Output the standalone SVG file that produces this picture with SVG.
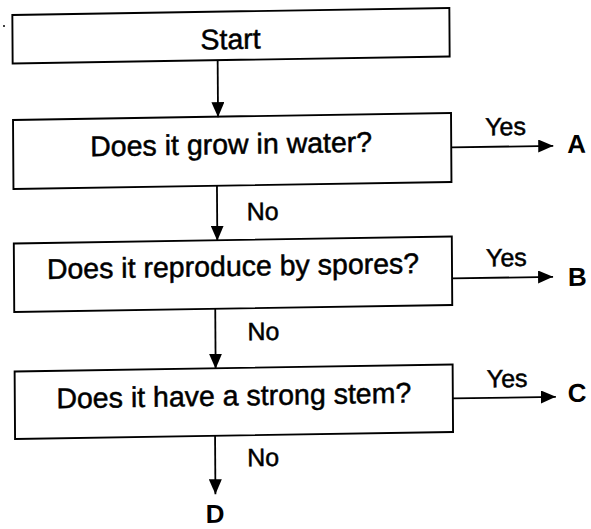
<svg xmlns="http://www.w3.org/2000/svg" width="591" height="529" viewBox="0 0 591 529">
  <style>
    .box { fill: #ffffff; stroke: #000000; stroke-width: 1.9; }
    .main { font-family: "Liberation Sans", Arial, sans-serif; font-size: 28.5px; fill: #000000; stroke: #000000; stroke-width: 0.5; text-anchor: middle; }
    .lbl { font-family: "Liberation Sans", Arial, sans-serif; font-size: 25px; fill: #000000; stroke: #000000; stroke-width: 0.5; }
    .end { font-family: "Liberation Sans", Arial, sans-serif; font-size: 26px; font-weight: bold; fill: #000000; }
    .conn { fill: none; stroke: #000000; stroke-width: 1.8; }
  </style>
  <defs>
    <marker id="arr" markerUnits="userSpaceOnUse" viewBox="0 0 15 13" refX="15" refY="6.5" markerWidth="15" markerHeight="13" orient="auto">
      <path d="M0,0 L15,6.5 L0,13 z" fill="#000000"/>
    </marker>
  </defs>
  <rect width="591" height="529" fill="#ffffff"/>
  <circle cx="4" cy="26" r="1" fill="#000000"/>
  <g transform="matrix(1,-0.016,0.0064,1,-1.73,3.68)">
    <g id="start">
      <rect class="box" x="14" y="11.5" width="437" height="48.5"/>
      <text class="main" x="232" y="49">Start</text>
    </g>
    <g id="q1">
      <rect class="box" x="14" y="116.5" width="438" height="69"/>
      <text class="main" x="232" y="154">Does it grow in water?</text>
    </g>
    <g id="q2">
      <rect class="box" x="14" y="240" width="438" height="68.5"/>
      <text class="main" x="233" y="276">Does it reproduce by spores?</text>
    </g>
    <g id="q3">
      <rect class="box" x="14" y="368" width="438" height="67.5"/>
      <text class="main" x="233" y="405.5">Does it have a strong stem?</text>
    </g>
    <g id="outA">
      <text class="end" x="568" y="158.5">A</text>
    </g>
    <g id="outB">
      <text class="end" x="568" y="291.5">B</text>
    </g>
    <g id="outC">
      <text class="end" x="567" y="407.5">C</text>
    </g>
    <g id="outD">
      <text class="end" x="213.5" y="522.5" text-anchor="middle">D</text>
    </g>
    <g id="connectors">
      <line class="conn" x1="219" y1="60" x2="219" y2="117" marker-end="url(#arr)"/>
      <line class="conn" x1="217.5" y1="185.5" x2="217.5" y2="240.5" marker-end="url(#arr)"/>
      <line class="conn" x1="215" y1="308.5" x2="215" y2="368.5" marker-end="url(#arr)"/>
      <line class="conn" x1="214" y1="435.5" x2="214" y2="494" marker-end="url(#arr)"/>
      <line class="conn" x1="452" y1="151" x2="554" y2="151" marker-end="url(#arr)"/>
      <line class="conn" x1="452" y1="282" x2="553" y2="282" marker-end="url(#arr)"/>
      <line class="conn" x1="452" y1="402" x2="555" y2="402" marker-end="url(#arr)"/>
      <text class="lbl" x="486" y="139.5">Yes</text>
      <text class="lbl" x="486" y="270.5">Yes</text>
      <text class="lbl" x="486" y="391.5">Yes</text>
      <text class="lbl" x="247" y="220.5">No</text>
      <text class="lbl" x="247" y="340.5">No</text>
      <text class="lbl" x="246" y="466.5">No</text>
    </g>
  </g>
</svg>
